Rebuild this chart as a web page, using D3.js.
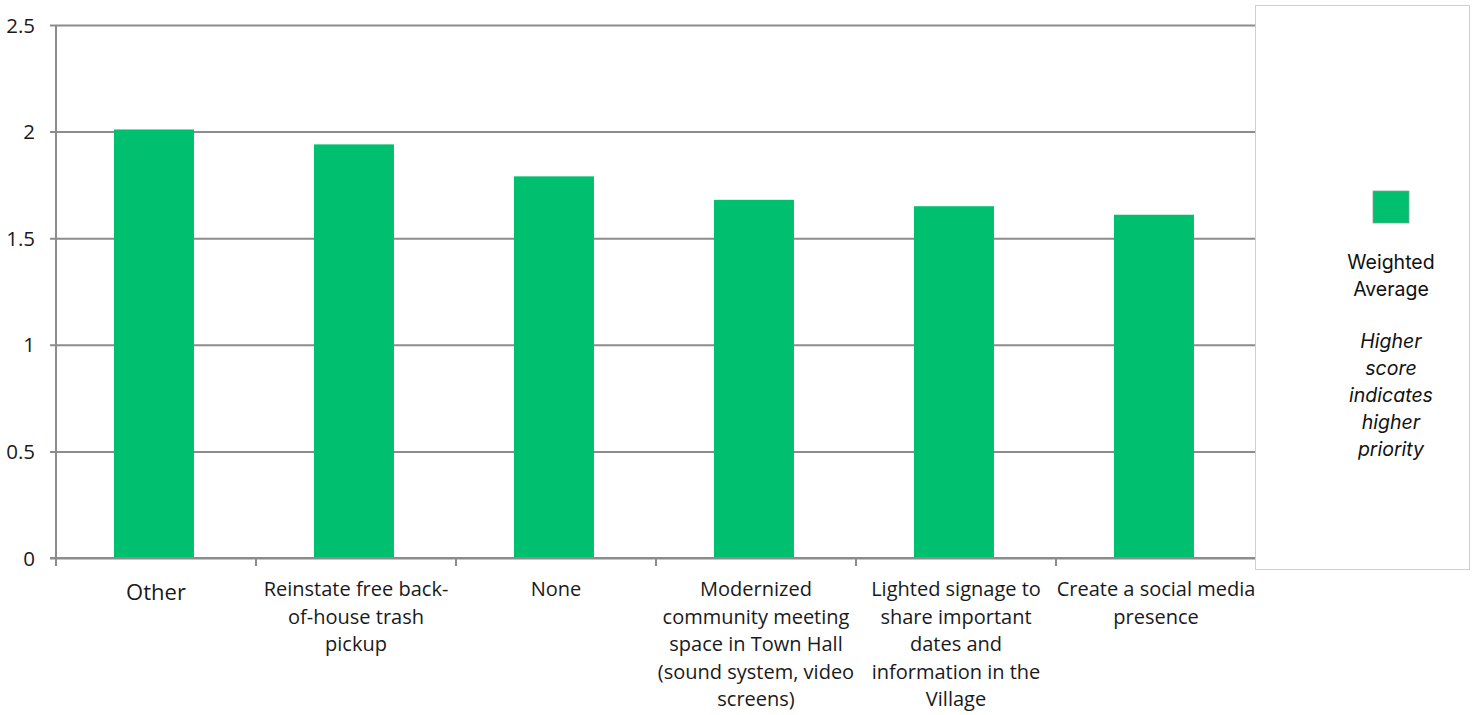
<!DOCTYPE html>
<html>
<head>
<meta charset="utf-8">
<script src="https://cdn.jsdelivr.net/npm/d3@7"></script>
<style>
  html, body { margin: 0; padding: 0; background: #ffffff; }
  svg { display: block; }
</style>
</head>
<body>
<svg id="chart" width="1478" height="715"></svg>
<script>
// ---- data ----
const categories = [
  "Other",
  "Reinstate free back-of-house trash pickup",
  "None",
  "Modernized community meeting space in Town Hall (sound system, video screens)",
  "Lighted signage to share important dates and information in the Village",
  "Create a social media presence"
];
const categoryLines = [
  ["Other"],
  ["Reinstate free back-", "of-house trash", "pickup"],
  ["None"],
  ["Modernized", "community meeting", "space in Town Hall", "(sound system, video", "screens)"],
  ["Lighted signage to", "share important", "dates and", "information in the", "Village"],
  ["Create a social media", "presence"]
];
const weightedAverage = [2.01, 1.94, 1.79, 1.68, 1.65, 1.61];
const yTicks = [0, 0.5, 1, 1.5, 2, 2.5];
const seriesName = ["Weighted", "Average"];
const legendNote = ["Higher", "score", "indicates", "higher", "priority"];

// ---- layout ----
const svg = d3.select("#chart");
const plot = { left: 56, right: 1256, top: 25, bottom: 558 };
const barColor = "#00BF6F";
const gridColor = "#8c8c8c";
const labelFont = "'Open Sans', 'Noto Sans', sans-serif";

const x = d3.scaleBand()
  .domain(categories)
  .range([plot.left, plot.right])
  .paddingInner(0.6)
  .paddingOuter(0.3)
  .align(0.483);

const y = d3.scaleLinear()
  .domain([0, 2.5])
  .range([plot.bottom, plot.top]);

// gridlines + y axis ticks
const yAxis = d3.axisLeft(y)
  .tickValues(yTicks)
  .tickSize(-(plot.right - plot.left))
  .tickSizeOuter(0)
  .tickPadding(0)
  .tickFormat(d => d3.format("")(d));

const gy = svg.append("g")
  .attr("transform", `translate(${plot.left},0)`)
  .call(yAxis);
gy.select(".domain").remove();
gy.selectAll(".tick line")
  .attr("x1", -6)
  .attr("stroke", gridColor)
  .attr("stroke-width", 2);
gy.selectAll(".tick text")
  .attr("x", -21)
  .attr("dy", "0.35em")
  .attr("fill", "#1a1a1a")
  .style("font-family", labelFont)
  .style("font-size", "20.5px");

// y axis line
svg.append("line")
  .attr("x1", plot.left).attr("x2", plot.left)
  .attr("y1", y(2.5)).attr("y2", y(0))
  .attr("stroke", gridColor).attr("stroke-width", 2);

// bars
svg.append("g")
  .selectAll("rect")
  .data(categories)
  .join("rect")
  .attr("x", d => x(d))
  .attr("width", x.bandwidth())
  .attr("y", (d, i) => y(weightedAverage[i]))
  .attr("height", (d, i) => y(0) - y(weightedAverage[i]))
  .attr("fill", barColor);

// x axis baseline and category boundary ticks
const step = (plot.right - plot.left) / categories.length;
const boundaries = d3.range(categories.length + 1).map(i => plot.left + i * step);

svg.append("line")
  .attr("x1", plot.left - 6).attr("x2", plot.right)
  .attr("y1", y(0)).attr("y2", y(0))
  .attr("stroke", gridColor).attr("stroke-width", 2);

svg.append("g")
  .selectAll("line")
  .data(boundaries)
  .join("line")
  .attr("x1", d => d).attr("x2", d => d)
  .attr("y1", y(0)).attr("y2", y(0) + 8)
  .attr("stroke", gridColor).attr("stroke-width", 2);

// category labels (centred in each category slot)
const labels = svg.append("g")
  .selectAll("text")
  .data(categories)
  .join("text")
  .attr("text-anchor", "middle")
  .attr("fill", "#1a1a1a")
  .style("font-family", labelFont)
  .style("font-size", (d, i) => i === 0 ? "22px" : "20px")
  .attr("transform", (d, i) => `translate(${boundaries[i] + step / 2},${i === 0 ? 600 : 596})`);

labels.each(function(d, i) {
  d3.select(this).selectAll("tspan")
    .data(categoryLines[i])
    .join("tspan")
    .attr("x", 0)
    .attr("y", (t, j) => j * 27.5)
    .text(t => t);
});

// legend box
const legend = svg.append("g");
legend.append("rect")
  .attr("x", 1255.5).attr("y", 5.5)
  .attr("width", 214).attr("height", 564)
  .attr("fill", "#ffffff")
  .attr("stroke", "#cfcfcf").attr("stroke-width", 1);

const legendCx = 1391;
legend.append("rect")
  .attr("x", legendCx - 18).attr("y", 191)
  .attr("width", 36).attr("height", 32)
  .attr("fill", barColor)
  .attr("stroke", "#7fa592").attr("stroke-width", 0.8);

const legendFont = "Inter, 'Noto Sans', sans-serif";
legend.append("g")
  .selectAll("text")
  .data(seriesName)
  .join("text")
  .attr("x", legendCx)
  .attr("y", (d, i) => 269 + i * 27)
  .attr("text-anchor", "middle")
  .attr("fill", "#111111")
  .style("font-family", legendFont)
  .style("font-size", "19.5px")
  .text(d => d);

legend.append("g")
  .selectAll("text")
  .data(legendNote)
  .join("text")
  .attr("x", legendCx)
  .attr("y", (d, i) => 348 + i * 27)
  .attr("text-anchor", "middle")
  .attr("fill", "#111111")
  .style("font-family", legendFont)
  .style("font-size", "19.5px")
  .style("font-style", "italic")
  .text(d => d);
</script>
</body>
</html>
